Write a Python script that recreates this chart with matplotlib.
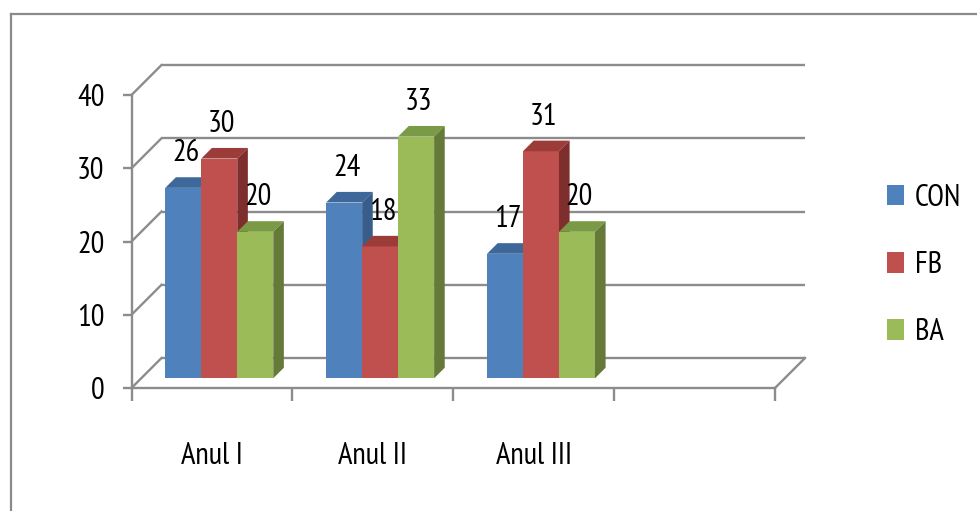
import matplotlib
matplotlib.use('Agg')
import matplotlib.pyplot as plt
from matplotlib.patches import Polygon, Patch
from matplotlib.lines import Line2D
from matplotlib import font_manager

# ---- data ----
categories = ['Anul I', 'Anul II', 'Anul III']
series = ['CON', 'FB', 'BA']
con = [26, 24, 17]
fb = [30, 18, 31]
ba = [20, 33, 20]
yticks = [0, 10, 20, 30, 40]

front_colors = ['#4F81BD', '#C0504D', '#9BBB59']
top_colors = ['#3D6899', '#9C3C39', '#7B9A45']
side_colors = ['#385D8A', '#7E2F2D', '#657A38']

avail = {f.name for f in font_manager.fontManager.ttflist}
prefs = ['PT Sans Narrow', 'Liberation Sans Narrow', 'Roboto Condensed', 'Carlito',
         'Liberation Sans', 'DejaVu Sans']
plt.rcParams['font.family'] = [f for f in prefs if f in avail] or ['DejaVu Sans']
FS = 22

W, H = 978, 511
fig = plt.figure(figsize=(W / 100, H / 100), dpi=100)
x0px, x1px = 131.5, 775
y0px, y1px = 388, 95
ax = fig.add_axes([x0px / W, (H - y0px) / H, (x1px - x0px) / W, (y0px - y1px) / H])
nslots = 4
ax.set_xlim(0, nslots)
ax.set_ylim(0, 40)
ppx = (x1px - x0px) / nslots
ppy = (y0px - y1px) / 40


def off(dpx):
    return dpx / ppx, dpx / ppy


grid_color = '#8C8C8C'
glw = 1.7
gdx, gdy = off(30)
for v in yticks:
    ax.plot([gdx, nslots + gdx], [v + gdy, v + gdy], color=grid_color, lw=glw,
            clip_on=False, zorder=1, solid_capstyle='butt')
    ax.plot([0, gdx], [v, v + gdy], color=grid_color, lw=glw, clip_on=False, zorder=1)
ax.plot([nslots, nslots + gdx], [0, gdy], color=grid_color, lw=glw, clip_on=False, zorder=1)

# ---- bars ----
bar_w = 0.2237
start = 0.21
fdx, fdy = off(9.7)
ddx, ddy = off(10.6)
for i, vals in enumerate([con, fb, ba]):
    xs = [j + start + i * bar_w for j in range(len(vals))]
    ax.bar(xs, vals, width=bar_w, bottom=fdy, align='edge', color=front_colors[i],
           edgecolor='none', zorder=3 + i, clip_on=False)
    for xl, v in zip(xs, vals):
        xr = xl + bar_w
        top = v + fdy
        ax.add_patch(Polygon([(xl, top), (xr, top), (xr + ddx, top + ddy), (xl + ddx, top + ddy)],
                             closed=True, facecolor=top_colors[i], edgecolor='none',
                             zorder=3 + i, clip_on=False))
        ax.add_patch(Polygon([(xr, fdy), (xr, top), (xr + ddx, top + ddy), (xr + ddx, fdy + ddy)],
                             closed=True, facecolor=side_colors[i], edgecolor='none',
                             zorder=3 + i, clip_on=False))
        ax.annotate(str(v), xy=(xl + bar_w / 2, top + ddy), xytext=(1.8, 17.3),
                    textcoords='offset points', ha='center', va='center',
                    fontsize=FS, color='black', zorder=10)

# ---- axes styling ----
for s in ['top', 'right']:
    ax.spines[s].set_visible(False)
for s in ['left', 'bottom']:
    ax.spines[s].set_color(grid_color)
    ax.spines[s].set_linewidth(glw)
ax.set_yticks(yticks)
ax.set_yticklabels([str(t) for t in yticks])
ax.tick_params(axis='y', length=6.5, width=glw, color=grid_color, pad=13, labelsize=FS)
ax.set_xticks(range(nslots + 1))
ax.set_xticklabels([])
ax.tick_params(axis='x', which='major', length=9.5, width=glw, color=grid_color)
ax.set_xticks([j + 0.5 for j in range(len(categories))], minor=True)
ax.set_xticklabels(categories, minor=True)
ax.tick_params(axis='x', which='minor', length=0, pad=39, labelsize=FS)
ax.set_facecolor('none')

# ---- legend ----
handles = [Patch(facecolor=c, edgecolor='none') for c in front_colors]
fig.legend(handles, series, loc='center left', bbox_to_anchor=(887 / W, (H - 265) / H),
           frameon=False, fontsize=FS, handlelength=0.56, handleheight=0.66,
           handletextpad=0.36, labelspacing=1.28, borderpad=0, borderaxespad=0)

# ---- outer frame ----
fig.add_artist(Line2D([10.5 / W, 1], [1 - 14.5 / H, 1 - 14.5 / H], transform=fig.transFigure,
                      color='#8A8A8A', lw=1.6))
fig.add_artist(Line2D([10.5 / W, 10.5 / W], [0, 1 - 14.5 / H], transform=fig.transFigure,
                      color='#8A8A8A', lw=1.6))

fig.savefig('out.png', dpi=100)
